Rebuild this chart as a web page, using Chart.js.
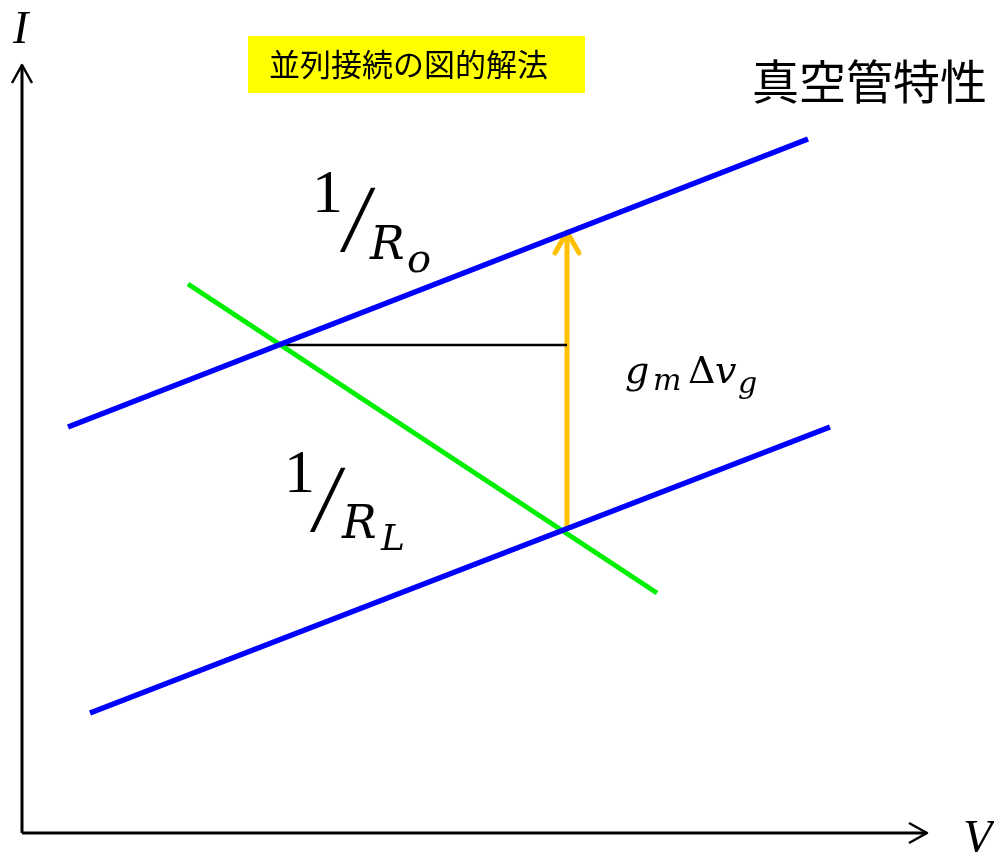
<!DOCTYPE html>
<html>
<head>
<meta charset="utf-8">
<script src="https://cdn.jsdelivr.net/npm/chart.js@4"></script>
<style>
html, body { margin: 0; padding: 0; background: #fff; }
#wrap { width: 994px; height: 852px; position: relative; }
</style>
</head>
<body>
<div id="wrap"><canvas id="diagram"></canvas></div>
<script>
// Diagram units: V to the right, I upward, origin at the corner of the axes
const iAxisV = [0, 0];
const iAxisI = [0, 768];
const iHeadV = [-10, 0, 10];
const iHeadI = [750, 768, 750];
const vAxisV = [0, 905];
const vAxisI = [0, 0];
const vHeadV = [887, 905, 887];
const vHeadI = [10, 0, -10];

// tube characteristics (two parallel lines, slope 1/Ro)
const upperTubeV = [46, 786];
const upperTubeI = [406, 694];
const lowerTubeV = [68, 808];
const lowerTubeI = [120, 406];

// load line, slope -1/RL
const loadV = [166, 635];
const loadI = [549, 240];

// horizontal reference and gm*dvg step
const levelV = [260, 545];
const levelI = [488, 488];
const stepV = [545, 545];
const stepI = [303, 599];
const stepHeadV = [533, 545, 557];
const stepHeadI = [580, 601, 580];

function pts(vs, is) {
    return vs.map((v, k) => ({ x: v, y: is[k] }));
}

function line(vs, is, color, width, cap) {
    return {
        data: pts(vs, is),
        showLine: true,
        borderColor: color,
        borderWidth: width,
        borderCapStyle: cap || 'butt',
        borderJoinStyle: 'round',
        pointRadius: 0,
        fill: false
    };
}

// labels placed in diagram units
const labels = [
    { text: 'I', v: -9, i: 790, font: 'italic 46px "Liberation Serif"' },
    { text: 'V', v: 941, i: -20, font: 'italic 48px "Liberation Serif"' },
    { text: '真空管特性', v: 730, i: 734, font: '47px "Noto Sans CJK JP"' },
    { text: '1', v: 290, i: 621, font: '62px "Liberation Serif"' },
    { text: '/', v: 318, i: 582, font: '96px "Liberation Serif"', skew: 0.14 },
    { text: 'R', v: 348, i: 574, font: 'italic 46px "DejaVu Serif"' },
    { text: 'o', v: 385, i: 561, font: 'italic 40px "DejaVu Serif"' },
    { text: '1', v: 262, i: 341, font: '62px "Liberation Serif"' },
    { text: '/', v: 288, i: 302, font: '96px "Liberation Serif"', skew: 0.14 },
    { text: 'R', v: 320, i: 295, font: 'italic 46px "DejaVu Serif"' },
    { text: 'L', v: 359, i: 283, font: 'italic 36px "DejaVu Serif"' },
    { text: 'g', v: 603, i: 450, font: 'italic 38px "DejaVu Serif"' },
    { text: 'm', v: 631, i: 443, font: 'italic 30px "DejaVu Serif"' },
    { text: 'Δ', v: 666, i: 450, font: '38px "DejaVu Serif"' },
    { text: 'v', v: 693, i: 450, font: 'italic 38px "DejaVu Serif"' },
    { text: 'g', v: 716, i: 440, font: 'italic 30px "DejaVu Serif"' }
];

const titleBox = { v0: 226, v1: 563, i0: 797, i1: 740 };
const titleText = '並列接続の図的解法';

const textPlugin = {
    id: 'diagramText',
    afterDatasetsDraw(chart) {
        const ctx = chart.ctx;
        const xs = chart.scales.x;
        const ys = chart.scales.y;
        ctx.save();
        // yellow title box
        const bx = xs.getPixelForValue(titleBox.v0);
        const by = ys.getPixelForValue(titleBox.i0);
        const bw = xs.getPixelForValue(titleBox.v1) - bx;
        const bh = ys.getPixelForValue(titleBox.i1) - by;
        ctx.fillStyle = '#ffff00';
        ctx.fillRect(bx, by, bw, bh);
        ctx.fillStyle = '#000';
        ctx.font = '31px "Noto Sans CJK JP"';
        ctx.textBaseline = 'middle';
        ctx.textAlign = 'left';
        ctx.fillText(titleText, bx + 21, by + bh / 2);

        ctx.textBaseline = 'alphabetic';
        labels.forEach(l => {
            ctx.font = l.font;
            const x = xs.getPixelForValue(l.v);
            const y = ys.getPixelForValue(l.i);
            if (l.skew) {
                // lean the fraction slash a bit more
                ctx.save();
                ctx.translate(x, y);
                ctx.transform(1, 0, -l.skew, 1, 0, 0);
                ctx.fillText(l.text, 0, 0);
                ctx.restore();
            } else {
                ctx.fillText(l.text, x, y);
            }
        });
        ctx.restore();
    }
};

new Chart(document.getElementById('diagram'), {
    type: 'scatter',
    data: {
        datasets: [
            line(iAxisV, iAxisI, '#000', 3),
            line(iHeadV, iHeadI, '#000', 2.5),
            line(vAxisV, vAxisI, '#000', 3),
            line(vHeadV, vHeadI, '#000', 2.5),
            line(upperTubeV, upperTubeI, '#0000ff', 5.5),
            line(lowerTubeV, lowerTubeI, '#0000ff', 5.5),
            line(loadV, loadI, '#00ee00', 5),
            line(levelV, levelI, '#000', 2.5),
            line(stepV, stepI, '#ffc000', 5),
            line(stepHeadV, stepHeadI, '#ffc000', 5, 'round')
        ]
    },
    options: {
        responsive: true,
        maintainAspectRatio: false,
        animation: false,
        layout: { padding: 0 },
        scales: {
            x: { type: 'linear', min: -22, max: 972, display: false },
            y: { type: 'linear', min: -19, max: 833, display: false }
        },
        plugins: {
            legend: { display: false },
            tooltip: { enabled: false }
        }
    },
    plugins: [textPlugin]
});
</script>
</body>
</html>
